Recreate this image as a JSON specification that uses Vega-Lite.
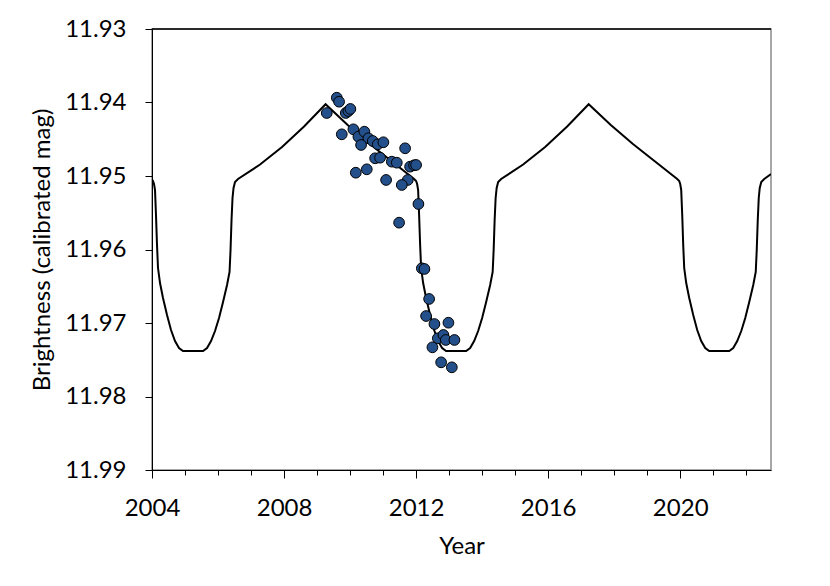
{
  "$schema": "https://vega.github.io/schema/vega-lite/v6.json",
  "width": 619,
  "height": 441,
  "autosize": {"type": "none"},
  "padding": {"left": 152, "top": 29, "right": 59, "bottom": 116},
  "background": "white",
  "config": {
    "view": {"stroke": "#8a8a8a", "strokeWidth": 1.5},
    "font": "Lato",
    "axis": {
      "labelFont": "Lato", "titleFont": "Lato",
      "labelFontSize": 24, "titleFontSize": 24,
      "labelColor": "black", "titleColor": "black",
      "titleFontWeight": "normal",
      "domainColor": "black", "tickColor": "black",
      "domainWidth": 1, "tickWidth": 1, "grid": false,
      "labelFlush": false
    }
  },
  "datasets": {
    "model": [
      {"year": 2004.000, "mag": 11.95050},
      {"year": 2004.030, "mag": 11.95068},
      {"year": 2004.061, "mag": 11.95109},
      {"year": 2004.091, "mag": 11.95190},
      {"year": 2004.121, "mag": 11.95531},
      {"year": 2004.152, "mag": 11.95939},
      {"year": 2004.182, "mag": 11.96252},
      {"year": 2004.243, "mag": 11.96456},
      {"year": 2004.333, "mag": 11.96660},
      {"year": 2004.455, "mag": 11.96891},
      {"year": 2004.576, "mag": 11.97095},
      {"year": 2004.697, "mag": 11.97245},
      {"year": 2004.818, "mag": 11.97340},
      {"year": 2004.939, "mag": 11.97381},
      {"year": 2005.546, "mag": 11.97381},
      {"year": 2005.667, "mag": 11.97340},
      {"year": 2005.788, "mag": 11.97245},
      {"year": 2005.909, "mag": 11.97109},
      {"year": 2006.030, "mag": 11.96932},
      {"year": 2006.152, "mag": 11.96714},
      {"year": 2006.273, "mag": 11.96483},
      {"year": 2006.349, "mag": 11.96306},
      {"year": 2006.379, "mag": 11.96007},
      {"year": 2006.409, "mag": 11.95599},
      {"year": 2006.439, "mag": 11.95299},
      {"year": 2006.470, "mag": 11.95163},
      {"year": 2006.515, "mag": 11.95082},
      {"year": 2006.606, "mag": 11.95041},
      {"year": 2007.273, "mag": 11.94844},
      {"year": 2007.939, "mag": 11.94605},
      {"year": 2008.606, "mag": 11.94327},
      {"year": 2009.258, "mag": 11.94024},
      {"year": 2009.927, "mag": 11.94306},
      {"year": 2010.598, "mag": 11.94565},
      {"year": 2011.270, "mag": 11.94803},
      {"year": 2011.939, "mag": 11.95041},
      {"year": 2012.000, "mag": 11.95068},
      {"year": 2012.031, "mag": 11.95109},
      {"year": 2012.061, "mag": 11.95190},
      {"year": 2012.091, "mag": 11.95531},
      {"year": 2012.122, "mag": 11.95939},
      {"year": 2012.152, "mag": 11.96252},
      {"year": 2012.213, "mag": 11.96456},
      {"year": 2012.303, "mag": 11.96660},
      {"year": 2012.425, "mag": 11.96891},
      {"year": 2012.546, "mag": 11.97095},
      {"year": 2012.667, "mag": 11.97245},
      {"year": 2012.788, "mag": 11.97340},
      {"year": 2012.909, "mag": 11.97381},
      {"year": 2013.516, "mag": 11.97381},
      {"year": 2013.637, "mag": 11.97340},
      {"year": 2013.758, "mag": 11.97245},
      {"year": 2013.879, "mag": 11.97109},
      {"year": 2014.000, "mag": 11.96932},
      {"year": 2014.122, "mag": 11.96714},
      {"year": 2014.243, "mag": 11.96483},
      {"year": 2014.319, "mag": 11.96306},
      {"year": 2014.349, "mag": 11.96007},
      {"year": 2014.379, "mag": 11.95599},
      {"year": 2014.409, "mag": 11.95299},
      {"year": 2014.440, "mag": 11.95163},
      {"year": 2014.485, "mag": 11.95082},
      {"year": 2014.576, "mag": 11.95041},
      {"year": 2015.242, "mag": 11.94844},
      {"year": 2015.909, "mag": 11.94605},
      {"year": 2016.576, "mag": 11.94327},
      {"year": 2017.227, "mag": 11.94024},
      {"year": 2017.897, "mag": 11.94306},
      {"year": 2018.568, "mag": 11.94565},
      {"year": 2019.239, "mag": 11.94803},
      {"year": 2019.909, "mag": 11.95041},
      {"year": 2019.970, "mag": 11.95068},
      {"year": 2020.000, "mag": 11.95109},
      {"year": 2020.030, "mag": 11.95190},
      {"year": 2020.061, "mag": 11.95531},
      {"year": 2020.091, "mag": 11.95939},
      {"year": 2020.121, "mag": 11.96252},
      {"year": 2020.182, "mag": 11.96456},
      {"year": 2020.273, "mag": 11.96660},
      {"year": 2020.394, "mag": 11.96891},
      {"year": 2020.515, "mag": 11.97095},
      {"year": 2020.636, "mag": 11.97245},
      {"year": 2020.758, "mag": 11.97340},
      {"year": 2020.879, "mag": 11.97381},
      {"year": 2021.485, "mag": 11.97381},
      {"year": 2021.606, "mag": 11.97340},
      {"year": 2021.727, "mag": 11.97245},
      {"year": 2021.849, "mag": 11.97109},
      {"year": 2021.970, "mag": 11.96932},
      {"year": 2022.091, "mag": 11.96714},
      {"year": 2022.212, "mag": 11.96483},
      {"year": 2022.288, "mag": 11.96306},
      {"year": 2022.318, "mag": 11.96007},
      {"year": 2022.349, "mag": 11.95599},
      {"year": 2022.379, "mag": 11.95299},
      {"year": 2022.409, "mag": 11.95163},
      {"year": 2022.455, "mag": 11.95082},
      {"year": 2022.545, "mag": 11.95041},
      {"year": 2022.750, "mag": 11.94973}
    ],
    "obs": [
      {"year": 2009.597, "mag": 11.93935},
      {"year": 2009.667, "mag": 11.93989},
      {"year": 2009.294, "mag": 11.94143},
      {"year": 2009.870, "mag": 11.94143},
      {"year": 2009.948, "mag": 11.94116},
      {"year": 2010.009, "mag": 11.94088},
      {"year": 2009.748, "mag": 11.94433},
      {"year": 2010.100, "mag": 11.94365},
      {"year": 2010.252, "mag": 11.94465},
      {"year": 2010.433, "mag": 11.94397},
      {"year": 2010.555, "mag": 11.94487},
      {"year": 2010.688, "mag": 11.94524},
      {"year": 2010.333, "mag": 11.94578},
      {"year": 2010.839, "mag": 11.94569},
      {"year": 2011.009, "mag": 11.94541},
      {"year": 2011.667, "mag": 11.94623},
      {"year": 2010.758, "mag": 11.94759},
      {"year": 2010.909, "mag": 11.94751},
      {"year": 2011.264, "mag": 11.94805},
      {"year": 2011.415, "mag": 11.94819},
      {"year": 2011.818, "mag": 11.94873},
      {"year": 2011.939, "mag": 11.94854},
      {"year": 2012.000, "mag": 11.94850},
      {"year": 2010.173, "mag": 11.94955},
      {"year": 2010.506, "mag": 11.94909},
      {"year": 2011.091, "mag": 11.95054},
      {"year": 2011.748, "mag": 11.95054},
      {"year": 2011.567, "mag": 11.95122},
      {"year": 2012.070, "mag": 11.95381},
      {"year": 2011.485, "mag": 11.95635},
      {"year": 2012.173, "mag": 11.96256},
      {"year": 2012.252, "mag": 11.96265},
      {"year": 2012.394, "mag": 11.96673},
      {"year": 2012.303, "mag": 11.96905},
      {"year": 2012.555, "mag": 11.97014},
      {"year": 2012.979, "mag": 11.96996},
      {"year": 2012.658, "mag": 11.97208},
      {"year": 2012.827, "mag": 11.97163},
      {"year": 2012.900, "mag": 11.97231},
      {"year": 2013.161, "mag": 11.97231},
      {"year": 2012.494, "mag": 11.97331},
      {"year": 2012.758, "mag": 11.97535},
      {"year": 2013.082, "mag": 11.97603}
    ]
  },
  "layer": [
    {
      "data": {"name": "model"},
      "mark": {"type": "line", "color": "black", "strokeWidth": 2, "clip": true},
      "encoding": {
        "x": {
          "field": "year", "type": "quantitative",
          "scale": {"domain": [2004, 2022.75], "nice": false, "zero": false},
          "axis": {
            "orient": "bottom",
            "title": "Year",
            "values": [2004, 2008, 2012, 2016, 2020],
            "format": "d",
            "tickSize": 8,
            "labelPadding": 18,
            "titlePadding": 14,
            "labelFlush": false
          }
        },
        "y": {
          "field": "mag", "type": "quantitative",
          "scale": {"domain": [11.93, 11.99], "reverse": true, "nice": false, "zero": false},
          "axis": {
            "title": "Brightness (calibrated mag)",
            "values": [11.93, 11.94, 11.95, 11.96, 11.97, 11.98, 11.99],
            "format": ".2f",
            "tickSize": 7,
            "labelPadding": 19,
            "titlePadding": 10,
            "labelFlush": false
          }
        }
      }
    },
    {
      "data": {"name": "obs"},
      "mark": {"type": "point", "shape": "circle", "filled": true, "fill": "#23508a", "fillOpacity": 1, "stroke": "black", "strokeWidth": 1, "size": 115},
      "encoding": {
        "x": {
          "field": "year", "type": "quantitative",
          "axis": {
            "orient": "bottom",
            "title": null,
            "values": [2005, 2006, 2007, 2009, 2010, 2011, 2013, 2014, 2015, 2017, 2018, 2019, 2021, 2022],
            "labels": false,
            "tickSize": 5,
            "domain": false
          }
        },
        "y": {"field": "mag", "type": "quantitative"}
      }
    },
    {
      "data": {"values": [{}]},
      "mark": {"type": "rule", "color": "black", "strokeWidth": 1.5},
      "encoding": {"y": {"datum": 11.93}}
    }
  ],
  "resolve": {"axis": {"x": "independent"}}
}
